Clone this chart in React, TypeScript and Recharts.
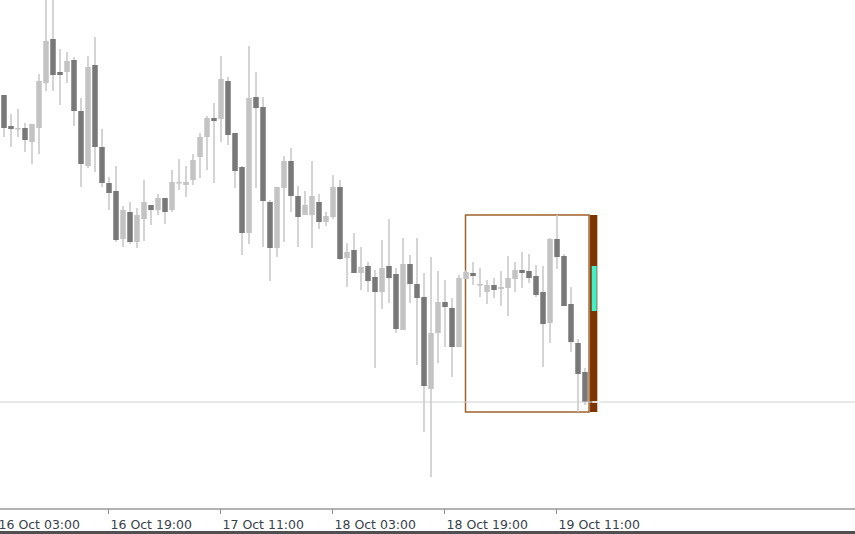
import { ComposedChart, Bar, XAxis, YAxis, ReferenceArea, ReferenceLine } from "recharts";

// hourly candles, 16 Oct 04:00 .. 19 Oct 15:00
const opens = [
  1.1907, 1.1876, 1.1873, 1.1874, 1.1860, 1.1874, 1.1919, 1.1963, 1.1930, 1.1930,
  1.1942, 1.1891, 1.1836, 1.1937, 1.1855, 1.1819, 1.1811, 1.1763, 1.1790, 1.1760,
  1.1783, 1.1797, 1.1792, 1.1804, 1.1792, 1.1819, 1.1817, 1.1822, 1.1845, 1.1865,
  1.1884, 1.1883, 1.1921, 1.1869, 1.1835, 1.1769, 1.1905, 1.1895, 1.1800, 1.1754,
  1.1814, 1.1841, 1.1806, 1.1787, 1.1787, 1.1800, 1.1780, 1.1785, 1.1815, 1.1744,
  1.1752, 1.1729, 1.1736, 1.1725, 1.1710, 1.1736, 1.1728, 1.1672, 1.1738, 1.1718,
  1.1705, 1.1613, 1.1669, 1.1700, 1.1694, 1.1655, 1.1723, 1.1729, 1.1717, 1.1710,
  1.1717, 1.1713, 1.1714, 1.1723, 1.1732, 1.1731, 1.1726, 1.1710, 1.1679, 1.1763,
  1.1746, 1.1698, 1.1659, 1.1630,
];
const highs = [
  1.1907, 1.1888, 1.1893, 1.1879, 1.1878, 1.1928, 1.2007, 1.2010, 1.1953, 1.1950,
  1.1945, 1.1904, 1.1946, 1.1965, 1.1873, 1.1825, 1.1836, 1.1796, 1.1800, 1.1794,
  1.1822, 1.1797, 1.1808, 1.1804, 1.1832, 1.1843, 1.1836, 1.1848, 1.1869, 1.1886,
  1.1899, 1.1946, 1.1925, 1.1869, 1.1836, 1.1956, 1.1930, 1.1905, 1.1802, 1.1815,
  1.1846, 1.1854, 1.1816, 1.1811, 1.1841, 1.1808, 1.1790, 1.1827, 1.1822, 1.1759,
  1.1769, 1.1755, 1.1740, 1.1732, 1.1762, 1.1783, 1.1734, 1.1764, 1.1747, 1.1764,
  1.1729, 1.1745, 1.1731, 1.1722, 1.1704, 1.1727, 1.1732, 1.1740, 1.1734, 1.1722,
  1.1724, 1.1731, 1.1746, 1.1740, 1.1750, 1.1748, 1.1737, 1.1736, 1.1764, 1.1787,
  1.1748, 1.1715, 1.1663, 1.1634,
];
const lows = [
  1.1865, 1.1855, 1.1865, 1.1850, 1.1838, 1.1848, 1.1911, 1.1911, 1.1897, 1.1919,
  1.1876, 1.1815, 1.1834, 1.1830, 1.1815, 1.1792, 1.1760, 1.1755, 1.1758, 1.1754,
  1.1761, 1.1777, 1.1787, 1.1778, 1.1790, 1.1812, 1.1805, 1.1817, 1.1824, 1.1832,
  1.1819, 1.1860, 1.1857, 1.1814, 1.1747, 1.1758, 1.1814, 1.1755, 1.1721, 1.1745,
  1.1760, 1.1790, 1.1755, 1.1787, 1.1754, 1.1773, 1.1776, 1.1783, 1.1742, 1.1715,
  1.1729, 1.1712, 1.1710, 1.1634, 1.1693, 1.1699, 1.1669, 1.1672, 1.1699, 1.1637,
  1.1570, 1.1525, 1.1639, 1.1655, 1.1625, 1.1655, 1.1723, 1.1717, 1.1705, 1.1698,
  1.1704, 1.1696, 1.1686, 1.1710, 1.1714, 1.1719, 1.1705, 1.1635, 1.1659, 1.1733,
  1.1696, 1.1650, 1.1590, 1.1597,
];
const closes = [
  1.1874, 1.1873, 1.1874, 1.1862, 1.1878, 1.1921, 1.1961, 1.1927, 1.1927, 1.1941,
  1.1891, 1.1838, 1.1935, 1.1855, 1.1819, 1.1809, 1.1762, 1.1792, 1.1760, 1.1787,
  1.1800, 1.1792, 1.1804, 1.1790, 1.1820, 1.1820, 1.1820, 1.1842, 1.1865, 1.1884,
  1.1881, 1.1923, 1.1867, 1.1831, 1.1769, 1.1904, 1.1894, 1.1801, 1.1754, 1.1815,
  1.1841, 1.1806, 1.1785, 1.1797, 1.1806, 1.1780, 1.1786, 1.1815, 1.1743, 1.1750,
  1.1729, 1.1735, 1.1721, 1.1710, 1.1734, 1.1724, 1.1673, 1.1738, 1.1718, 1.1704,
  1.1616, 1.1669, 1.1700, 1.1695, 1.1655, 1.1724, 1.1730, 1.1726, 1.1718, 1.1717,
  1.1712, 1.1715, 1.1724, 1.1732, 1.1729, 1.1724, 1.1707, 1.1678, 1.1763, 1.1745,
  1.1696, 1.1660, 1.1628, 1.1600,
];

// time axis labels, placed at candle index
const tickIndex = [-1, 15, 31, 47, 63, 79];
const tickLabels = ["16 Oct 03:00", "16 Oct 19:00", "17 Oct 11:00", "18 Oct 03:00", "18 Oct 19:00", "19 Oct 11:00"];

// box around the last session + zone marker
const boxStart = 66;
const zoneTop = 1.1736;
const zoneBottom = 1.1691;

const data = opens.map((o, i) => ({
  i,
  open: o,
  high: highs[i],
  low: lows[i],
  close: closes[i],
}));

const lastIndex = data.length - 1;
const lastClose = closes[lastIndex];
const boxHigh = Math.max(...highs.slice(boxStart));
const boxLow = Math.min(...lows.slice(boxStart));

const UP = "#c3c3c3";
const DOWN = "#787878";
const WICK = "#cacaca";

const Candle = (props: any) => {
  const { x, y, width, height, payload } = props;
  if (x == null || payload == null) return null;
  const { open, close, high, low } = payload;
  const top = Math.min(y, y + height);
  const bottom = Math.max(y, y + height);
  const span = high - low;
  const toY = (v: number) => (span === 0 ? top : top + ((high - v) / span) * (bottom - top));
  const cx = x + width / 2;
  const bodyTop = toY(Math.max(open, close));
  const bodyBottom = toY(Math.min(open, close));
  return (
    <g>
      <line x1={cx} x2={cx} y1={top} y2={bottom} stroke={WICK} strokeWidth={1.6} />
      <rect
        x={cx - 2.75}
        y={bodyTop}
        width={5.5}
        height={Math.max(bodyBottom - bodyTop, 1.5)}
        fill={close >= open ? UP : DOWN}
      />
    </g>
  );
};

const TimeTick = (props: any) => {
  const { x, payload } = props;
  const k = tickIndex.indexOf(payload.value);
  return (
    <g>
      <line x1={x} x2={x} y1={509} y2={514} stroke="#8c8c8c" />
      <text x={x + 2} y={529} textAnchor="start" fontSize={12.5} fill="#3a3f4c" fontFamily="'DejaVu Sans', Verdana, sans-serif">
        {tickLabels[k]}
      </text>
    </g>
  );
};

export default function App() {
  return (
    <div style={{ position: "absolute", left: 0, top: 0, width: 855, height: 534, background: "#fff", overflow: "hidden" }}>
      <ComposedChart width={855} height={534} data={data} margin={{ top: -10, right: 0, bottom: 0, left: -3.5 }}>
        <XAxis
          dataKey="i"
          type="number"
          domain={[-1, 121.64]}
          ticks={tickIndex}
          interval={0}
          height={25}
          axisLine={{ stroke: "#9a9a9a", strokeWidth: 1.5 }}
          tickLine={false}
          tick={<TimeTick />}
        />
        <YAxis type="number" domain={[1.1493, 1.2012]} hide />
        <ReferenceLine y={lastClose} stroke="#d0d0d0" strokeWidth={1} />
        <Bar dataKey={(d: any) => [d.low, d.high]} barSize={6} shape={<Candle />} isAnimationActive={false} />
        <ReferenceArea
          x1={boxStart}
          x2={lastIndex + 0.65}
          y1={boxLow}
          y2={boxHigh}
          fill="none"
          stroke="#a0612c"
          strokeWidth={1.5}
          fillOpacity={0}
        />
        <ReferenceArea x1={lastIndex + 0.79} x2={lastIndex + 1.83} y1={boxLow} y2={boxHigh} fill="#7c3500" fillOpacity={1} stroke="none" />
        <ReferenceArea x1={lastIndex + 1.03} x2={lastIndex + 1.74} y1={zoneBottom} y2={zoneTop} fill="#3ff0c8" fillOpacity={1} stroke="none" />
        <ReferenceLine
          segment={[{ x: lastIndex + 1.1, y: lastClose }, { x: lastIndex + 2.2, y: lastClose }]}
          stroke="#f4f4f4"
          strokeWidth={1.5}
        />
      </ComposedChart>
      <div style={{ position: "absolute", left: 0, top: 531, width: 855, height: 3, background: "#505050" }} />
    </div>
  );
}
